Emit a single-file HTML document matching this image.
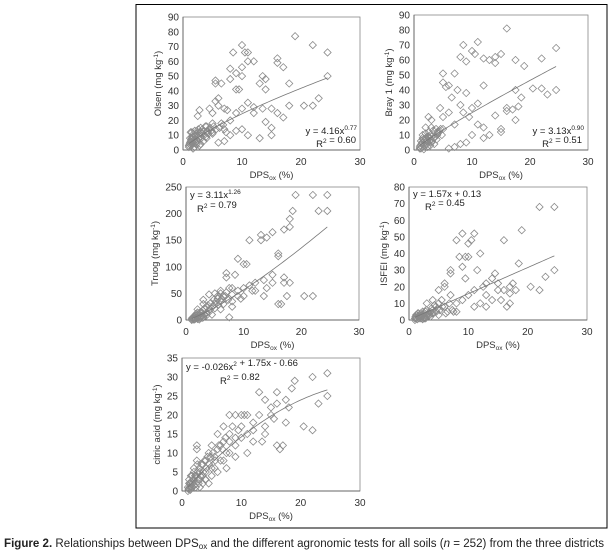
<!DOCTYPE html>
<html><head><meta charset="utf-8"><style>
body{margin:0;background:#fff}
svg{display:block;font-family:"Liberation Sans",sans-serif}
</style></head><body>
<svg id="fig" width="611" height="555" viewBox="0 0 611 555" xmlns="http://www.w3.org/2000/svg">
<rect x="136" y="4.5" width="471" height="523.5" fill="none" stroke="#000" stroke-width="1"/>
<text x="4" y="547" font-size="11.5" textLength="600" lengthAdjust="spacingAndGlyphs" fill="#222"><tspan font-weight="bold">Figure 2.</tspan> Relationships between DPS<tspan font-size="8" dy="2">ox</tspan><tspan dy="-2"> and the different agronomic tests for all soils (</tspan><tspan font-style="italic">n</tspan> = 252) from the three districts</text>
</svg>
<script>
const xTicks=[0,10,20,30];
const olsenTicks=[0,10,20,30,40,50,60,70,80,90];
const brayTicks=[0,10,20,30,40,50,60,70,80,90];
const truogTicks=[0,50,100,150,200,250];
const isfeiTicks=[0,10,20,30,40,50,60,70,80];
const citricTicks=[0,5,10,15,20,25,30,35];
const olsenPoints=[[1,3],[1.2,5],[1.5,8],[1.3,12],[2,6],[2,10],[2.5,12],[3,15],[2.5,23],[2.8,27],[3,9],[3.5,13],[4,16],[4.5,28],[5,25],[5,12],[5,18],[5.5,45],[5.5,47],[5.5,33],[6,35],[6,30],[6,5],[6.5,45],[7,28],[7,6],[7.5,27],[8,48],[8,55],[8.5,66],[9,52],[9,41],[9.5,41],[10,71],[10,56],[10,50],[10.5,66],[11,66],[11,60],[11,32],[12,29],[12,60],[13,45],[13.5,50],[14,48],[14,41],[14,19],[15,10],[15,28],[16,59],[16,62],[17,56],[18,30],[18,45],[19,77],[20.5,30],[22,71],[22,30],[23,35],[24.5,50],[24.5,66],[10,14],[11,10],[13,8],[15,15],[16,25],[17,22],[8,20],[7,14],[9,25],[10,28],[8,10],[12,25],[13.5,28],[3,4],[4,8],[2,2],[1.5,4],[2.2,7],[1.8,11],[3.2,11],[4.2,12],[6.5,18],[9,13],
[1,2],[1.1,4],[1.3,6],[1.4,3],[1.6,9],[1.7,5],[1.9,7],[2.1,9],[2.3,11],[2.4,6],[2.6,14],[2.7,10],[2.9,12],[3.1,8],[3.3,14],[3.6,10],[3.8,16],[4.1,13],[4.3,11],[4.6,15],[4.8,13],[5.2,16],[5.6,14],[6.2,15],[6.8,17],[7.3,12],[1.2,8],[1.5,12],[2,13],[2.3,4],[2.8,3],[3.5,6],[1.7,1],[2.6,8],[3.9,9],[1.4,7],[2.2,5],[3,12],[4.4,14],[5,11]];
const brayPoints=[[1,2],[1.5,5],[2,8],[2,15],[2.5,22],[3,20],[2,3],[3,5],[4,12],[4.5,28],[5,51],[5,45],[5,22],[5.5,42],[6,43],[6,1],[6.5,35],[7,51],[7,2],[7.5,40],[8,62],[8,30],[8.5,70],[9,59],[9,38],[9.5,22],[10,66],[10,10],[10.5,64],[11,72],[11,31],[11,17],[12,61],[12,43],[12,15],[13,60],[13,10],[14,58],[14,62],[14,23],[15,64],[15,12],[16,81],[16,28],[17,27],[17.5,60],[17.5,40],[18,29],[18.5,35],[19,56],[20.5,41],[22,61],[22,41],[23,37],[24.5,68],[24.5,40],[7,17],[8,4],[9,5],[6,25],[5,14],[4,10],[3,15],[2.5,9],[12,8],[15,14],[16,26],[17.5,20],[10,28],[8.5,25],[1.2,1],[1.8,6],[2.2,4],[3.5,8],[1.5,10],
[1,1],[1.1,3],[1.3,4],[1.4,2],[1.6,7],[1.7,3],[1.9,5],[2.1,7],[2.3,9],[2.4,5],[2.6,12],[2.7,8],[2.9,10],[3.1,6],[3.3,13],[3.6,9],[3.8,14],[4.1,11],[4.3,12],[4.6,14],[4.8,10],[1.2,6],[1.5,8],[2,11],[2.3,2],[2.8,3],[3.5,4],[1.7,0.5],[2.6,6],[3.9,7],[1.4,5],[2.2,6],[3,9],[4.4,13]];
const truogPoints=[[1,0],[1.2,3],[1.5,5],[2,10],[2,20],[2.5,15],[3,30],[3,38],[3.5,25],[4,15],[4,48],[5,50],[5,30],[5.5,40],[6,55],[6,20],[6.5,45],[7,80],[7,88],[7.5,5],[7.5,60],[8,60],[8,35],[8.5,85],[9,115],[9,55],[10,105],[10,60],[10.5,105],[11,150],[11,65],[12,70],[12,55],[13,160],[13,150],[13.5,75],[13.5,45],[14,60],[14,155],[15,165],[15,70],[15,85],[16,125],[16,120],[16,30],[16.5,30],[17,170],[17,80],[17,70],[17.5,45],[18,175],[18,190],[18,70],[18.5,205],[19,235],[20.5,45],[22,235],[22,45],[23,205],[24.5,235],[24.5,205],[4.5,10],[3,5],[2,2],[9.5,40],[11.5,55],[6,35],[8,25],[10,45],[5,22],[1.5,1],[2.5,6],[1.8,12],[3.5,12],[6.5,30],
[1,2],[1.1,4],[1.3,1],[1.4,6],[1.6,3],[1.7,8],[1.9,4],[2.1,6],[2.3,9],[2.4,3],[2.6,12],[2.7,8],[2.9,18],[3.1,10],[3.3,22],[3.6,14],[3.8,28],[4.1,20],[4.3,32],[4.6,25],[4.8,38],[5.2,35],[5.6,28],[6.2,40],[6.8,45],[7.3,38],[1.2,5],[1.5,8],[2,14],[2.3,1],[2.8,4],[3.5,8],[5.5,45],[6,50],[7,52],[8,48],[9,45]];
const isfeiPoints=[[1,0],[1.5,2],[2,4],[2,1],[2.5,3],[3,10],[3,2],[3.5,5],[4,12],[4.5,8],[5,18],[5,10],[5.5,12],[6,20],[6,22],[6.5,5],[7,30],[7,28],[7,15],[7.5,5],[8,48],[8,10],[8.5,38],[9,52],[9,32],[9,12],[9.5,38],[10,46],[10,38],[10,15],[10.5,48],[11,52],[11,18],[11.5,30],[12,40],[12,10],[13,8],[13,22],[14,25],[14.5,28],[14,12],[15,22],[15.5,12],[16,48],[16,18],[16.5,8],[17,20],[17,10],[17.5,22],[18,18],[18.5,34],[19,54],[20.5,20],[22,68],[22,18],[23,26],[24.5,68],[24.5,30],[6,8],[8,5],[9.5,25],[11,8],[12.5,20],[13,15],[15,18],[17,16],[1.2,1],[1.8,3],[2.2,2],[2.8,5],[4,6],[5,3],
[1,1],[1.1,2],[1.3,3],[1.4,0.5],[1.6,4],[1.7,1],[1.9,2],[2.1,3],[2.3,5],[2.4,1],[2.6,4],[2.7,2],[2.9,6],[3.1,3],[3.3,4],[3.6,2],[3.8,7],[4.1,4],[4.3,9],[4.6,5],[4.8,7],[5.2,6],[5.6,8],[6.2,4],[6.8,10],[7.3,6],[1.2,3],[1.5,4],[2,2],[2.3,0.5],[2.8,1],[3.5,3],[1.7,2],[2.6,1],[3.9,4]];
const citricPoints=[[1,0],[1.2,2],[1.5,1],[1.5,4],[2,3],[2,6],[2.5,8],[2.5,12],[2.5,11],[3,5],[3,3],[3.5,7],[4,8],[4,3],[4.5,10],[4.5,2],[5,12],[5,6],[5.5,9],[6,11],[6,15],[6,5],[6.5,12],[7,17],[7,8],[7.5,6],[7.5,10],[8,20],[8,13],[8.5,17],[9,20],[9,12],[9,9],[10,20],[10,17],[10,14],[10.5,20],[11,20],[11,15],[11,10],[12,16],[12,13],[13,26],[13,20],[13.5,13],[14,24],[14,17],[15,20],[15,22],[15.5,19],[16,26],[16,23],[16,12],[16.5,11],[17,12],[17.5,24],[17.5,18],[18,22],[18.5,27],[19,29],[20.5,17],[22,30],[22,16],[23,23],[24.5,31],[24.5,25],[3,1],[5,4],[7,13],[8,10],[9.5,16],[12,18],[14,15],[1.3,1],[1.8,2],[2.2,4],[3.5,4],[4,5],
[1,1],[1.1,0.5],[1.3,2],[1.4,0.3],[1.6,2.5],[1.7,1],[1.9,3],[2.1,1.5],[2.3,4],[2.4,2],[2.6,5],[2.7,3],[2.9,6],[3.1,4],[3.3,7],[3.6,5],[3.8,8],[4.1,6],[4.3,9],[4.6,7],[4.8,9],[5.2,10],[5.6,8],[6.2,12],[6.8,11],[7.3,14],[1.2,3],[1.5,2],[2,5],[2.3,1],[2.8,2],[3.5,2],[1.7,4],[2.6,7],[3.9,3],[5.5,6],[6.5,8],[8,15],[9,14]];
const NS="http://www.w3.org/2000/svg";
const svg=document.getElementById('fig');
function mk(tag,attrs,parent){const e=document.createElementNS(NS,tag);for(const k in attrs)e.setAttribute(k,attrs[k]);(parent||svg).appendChild(e);return e;}
function panel(p){
  const g=mk('g',{});
  
  
  const ymax=p.yTicks[p.yTicks.length-1];
  const sx=v=>p.l+(v/30)*(p.r-p.l);
  const sy=v=>p.b-(v/ymax)*(p.b-p.t);
  const box=mk('rect',{x:p.l,y:p.t,width:p.r-p.l,height:p.b-p.t,fill:'none',stroke:'#888','stroke-width':0.8},g);
  
  
  const ax=mk('line',{x1:p.l,y1:p.b,x2:p.r,y2:p.b,stroke:'#666','stroke-width':1},g);
  
  
  const ay=mk('line',{x1:p.l,y1:p.t,x2:p.l,y2:p.b,stroke:'#666','stroke-width':1},g);
  
  
  p.yTicks.forEach(v=>{const t=mk('text',{x:p.l-4,y:sy(v)+3.5,'font-size':10,'text-anchor':'end',fill:'#333'},g);t.textContent=v;
    
    });
  xTicks.forEach(v=>{const t=mk('text',{x:sx(v),y:p.b+15,'font-size':10,'text-anchor':'middle',fill:'#333'},g);t.textContent=v;
    
    });
  const xt=mk('text',{x:(p.l+p.r)/2,y:p.b+28,'font-size':9.5,'text-anchor':'middle',fill:'#333'},g);
  xt.innerHTML='DPS<tspan font-size="6.5" dy="2">ox</tspan><tspan dy="-2"> (%)</tspan>';
  
  
  const yt=mk('text',{x:0,y:0,'font-size':9.5,'text-anchor':'middle',fill:'#333',transform:`translate(${p.l-p.yOff},${(p.t+p.b)/2}) rotate(-90)`},g);
  yt.innerHTML=p.ylabel+' (mg kg<tspan font-size="6.5" dy="-3">-1</tspan><tspan dy="3">)</tspan>';
  
  
  p.points.forEach(([x,y])=>{const cx=sx(x),cy=sy(y),h=3.6;
    const d=mk('polygon',{points:`${cx},${cy-h} ${cx+h},${cy} ${cx},${cy+h} ${cx-h},${cy}`,fill:'none',stroke:'#8a8a8a','stroke-width':0.8},g);
    
    });
  let pts=[];for(let x=1;x<=24.5;x+=0.5)pts.push(sx(x)+','+sy(p.fit(x)));
  const fl=mk('polyline',{points:pts.join(' '),fill:'none',stroke:'#777','stroke-width':0.8},g);
  
  
  const e1=mk('text',{x:p.eq[0],y:p.eq[1],'font-size':9.5,'text-anchor':p.eq[4],fill:'#222'},g);
  e1.innerHTML=p.eqText;
  
  
  const e2=mk('text',{x:p.eq[2],y:p.eq[3],'font-size':9.5,'text-anchor':p.eq[4],fill:'#222'},g);
  e2.innerHTML=p.r2;
  
  
}
const sup=s=>`<tspan font-size="6.5" dy="-4">${s}</tspan><tspan dy="4"></tspan>`;
panel({name:'olsen',l:183,r:360,t:17,b:150,yTicks:olsenTicks,points:olsenPoints,ylabel:'Olsen',yOff:22,fit:x=>4.16*Math.pow(x,0.77),eq:[357,134,356,147,'end'],eqText:'y = 4.16x'+sup('0.77'),r2:'R'+sup('2')+' = 0.60'});
panel({name:'bray',l:414,r:588,t:15,b:150,yTicks:brayTicks,points:brayPoints,ylabel:'Bray 1',yOff:22,fit:x=>3.13*Math.pow(x,0.90),eq:[584,134,582,147,'end'],eqText:'y = 3.13x'+sup('0.90'),r2:'R'+sup('2')+' = 0.51'});
panel({name:'truog',l:186,r:359,t:187,b:320,yTicks:truogTicks,points:truogPoints,ylabel:'Truog',yOff:28,fit:x=>3.11*Math.pow(x,1.26),eq:[190,198,197,212,'start'],eqText:'y = 3.11x'+sup('1.26'),r2:'R'+sup('2')+' = 0.79'});
panel({name:'isfei',l:409,r:587,t:187,b:320,yTicks:isfeiTicks,points:isfeiPoints,ylabel:'ISFEI',yOff:22,fit:x=>1.57*x+0.13,eq:[413,197,425,210,'start'],eqText:'y = 1.57x + 0.13',r2:'R'+sup('2')+' = 0.45'});
panel({name:'citric',l:182,r:360,t:358,b:491,yTicks:citricTicks,points:citricPoints,ylabel:'citric acid',yOff:22,fit:x=>-0.026*x*x+1.75*x-0.66,eq:[186,370,220,384,'start'],eqText:'y = -0.026x'+sup('2')+' + 1.75x - 0.66',r2:'R'+sup('2')+' = 0.82'});
</script>
</body></html>
